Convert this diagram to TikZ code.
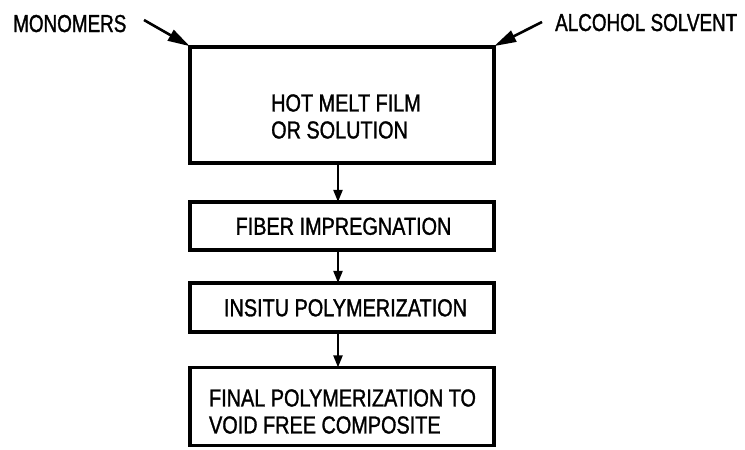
\documentclass[tikz,border=0pt]{standalone}
\usepackage{fontspec}
\newfontfamily\lett{Liberation Sans}[FakeStretch=0.81,FakeBold=1.2]
\newfontfamily\lettn{Liberation Sans}[FakeStretch=0.77,FakeBold=1.2]
\usetikzlibrary{arrows.meta}
\begin{document}
\begin{tikzpicture}[x=1pt,y=-1pt,
  box/.style={draw=black,line width=3.2pt,inner sep=0pt,minimum width=304pt,
    font=\lett\fontsize{24.5}{27}\selectfont,text height=17.5pt,text depth=0pt},
  txt/.style={inner sep=0pt,align=left,font=\lett\fontsize{24.5}{27}\selectfont},
  lbl/.style={inner sep=0pt,font=\lettn\fontsize{24.5}{27}\selectfont},
  flow/.style={line width=2.2pt,-{Triangle[length=12pt,width=9pt]},shorten >=-1.5pt},
  feed/.style={line width=2.6pt,-{Triangle[length=22pt,width=12pt]},shorten >=-1.5pt}]
\useasboundingbox[fill=white] (0,0) rectangle (745,450);
\node[box,minimum height=116pt] (b1) at (342,105) {};
\node[txt] (t1) at (346,116.5) {HOT MELT FILM\\OR SOLUTION};
\node[box,minimum height=48pt] (b2) at (342,226) {\hspace*{3pt}FIBER IMPREGNATION};
\node[box,minimum height=49pt] (b3) at (342,307.5) {\hspace*{7pt}INSITU POLYMERIZATION};
\node[box,minimum height=78pt] (b4) at (342,406.5) {};
\node[txt] (t4) at (342.5,411.5) {FINAL POLYMERIZATION TO\\VOID FREE COMPOSITE};
\node[lbl,anchor=base west] (mono) at (13,32) {MONOMERS};
\node[lbl,anchor=base west] (alc) at (555,31) {ALCOHOL SOLVENT};
\coordinate (m) at (144,20);
\coordinate (a) at (542,22);
\draw[feed] (m) -- (b1.north west);
\draw[feed] (a) -- (b1.north east);
\draw[flow] ([xshift=-4pt]b1.south) -- ([xshift=-4pt]b2.north);
\draw[flow] ([xshift=-4pt]b2.south) -- ([xshift=-4pt]b3.north);
\draw[flow] ([xshift=-4pt]b3.south) -- ([xshift=-4pt]b4.north);
\end{tikzpicture}
\end{document}
